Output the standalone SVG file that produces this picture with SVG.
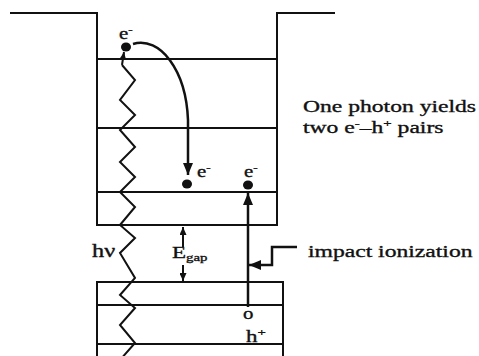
<svg xmlns="http://www.w3.org/2000/svg" width="479" height="356" viewBox="0 0 479 356">
<style>
.ln{fill:none;stroke:#111;stroke-width:2}
.ar{fill:none;stroke:#111;stroke-width:2.5}
.t{font-family:"Liberation Serif","Times New Roman",serif;fill:#111;stroke:#111;stroke-width:0.35}
.dot{fill:#111}
</style>
<defs>
<marker id="ah" viewBox="0 0 12 10" markerWidth="12" markerHeight="10" refX="12" refY="5" orient="auto" markerUnits="userSpaceOnUse">
<path d="M0,0 L12,5 L0,10 z" fill="#111"/>
</marker>
<marker id="ahs" viewBox="0 0 8 7" markerWidth="8" markerHeight="7" refX="8" refY="3.5" orient="auto" markerUnits="userSpaceOnUse">
<path d="M0,0 L8,3.5 L0,7 z" fill="#111"/>
</marker>
</defs>
<rect width="479" height="356" fill="#fff"/>
<g id="conduction-band">
<path class="ln" d="M10,13 H97 V225 H277 V13 H335"/>
<path class="ln" d="M97,59 H277 M97,128 H277 M97,192 H277"/>
</g>
<g id="valence-band">
<path class="ln" d="M97,356 V282 H283 V356"/>
<path class="ln" d="M97,305 H283 M97,344 H283"/>
</g>
<g id="photon">
<polyline class="ln" points="122,65 135,80 120,100 135,115 120,130 135,147 120,162 135,177 120,192 135,207 120,225 135,238 120,253 135,278 120,295 135,308 120,325 135,343 120,360"/>
<line class="ln" x1="122" y1="65" x2="124" y2="52" marker-end="url(#ahs)"/>
<text class="t" font-size="18" transform="translate(92,257) scale(1.35,1)">hν</text>
</g>
<g id="electron-top">
<ellipse class="dot" cx="126" cy="47" rx="5" ry="4.5"/>
<text class="t" font-size="16" transform="translate(119,39) scale(1.3,1)">e<tspan font-size="10" dy="-6">-</tspan></text>
</g>
<g id="electron-1">
<ellipse class="dot" cx="187" cy="184" rx="5" ry="4.5"/>
<text class="t" font-size="16" transform="translate(197,177) scale(1.3,1)">e<tspan font-size="10" dy="-6">-</tspan></text>
</g>
<g id="electron-2">
<ellipse class="dot" cx="248" cy="185" rx="5" ry="4.5"/>
<text class="t" font-size="16" transform="translate(244,177) scale(1.3,1)">e<tspan font-size="10" dy="-6">-</tspan></text>
</g>
<g id="hole">
<text class="t" font-size="16" transform="translate(243,319) scale(1.3,1)">o</text>
<text class="t" font-size="17" transform="translate(246,342) scale(1.35,1)">h<tspan font-size="11" dy="-6">+</tspan></text>
</g>
<g id="egap">
<text class="t" font-size="17" transform="translate(172,258) scale(1.35,1)">E<tspan font-size="11" dy="3">gap</tspan></text>
</g>
<g id="caption">
<text class="t" font-size="17.5" transform="translate(303,112) scale(1.35,1)">One photon yields</text>
<text class="t" font-size="17.5" transform="translate(303,133) scale(1.35,1)">two e<tspan font-size="11" dy="-6">-</tspan><tspan dy="6">–h</tspan><tspan font-size="11" dy="-6">+</tspan><tspan dy="6"> pairs</tspan></text>
</g>
<g id="impact-label">
<text class="t" font-size="17.5" transform="translate(308,257) scale(1.35,1)">impact ionization</text>
</g>
<g id="connectors">
<path class="ar" d="M133,44 C160,36 186,70 188,120 L188,175" marker-end="url(#ah)"/>
<line class="ar" x1="248" y1="307" x2="248" y2="193" marker-end="url(#ah)"/>
<path class="ar" d="M297,247 H272 V265 H249" marker-end="url(#ah)"/>
<line class="ln" x1="183" y1="247" x2="183" y2="227" marker-end="url(#ahs)"/>
<line class="ln" x1="183" y1="265" x2="183" y2="281" marker-end="url(#ahs)"/>
</g>
</svg>
